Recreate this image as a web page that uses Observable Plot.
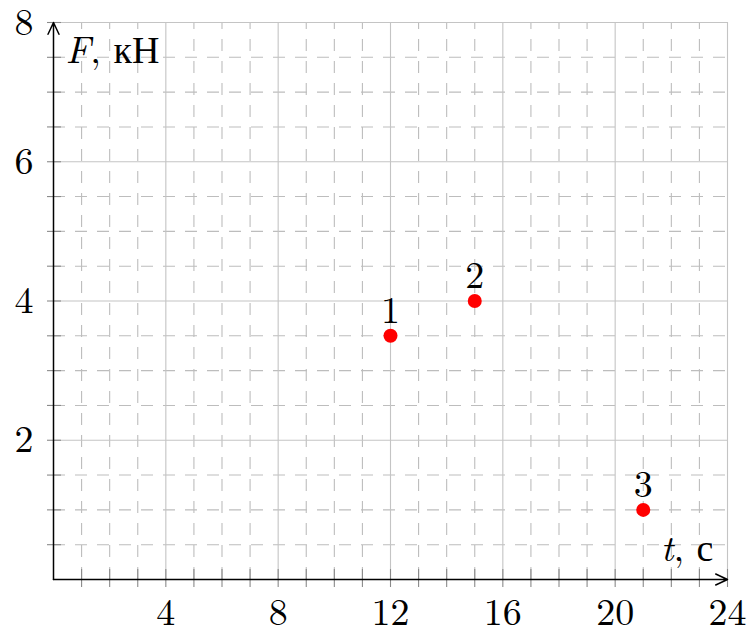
<!DOCTYPE html>
<html>
<head>
<meta charset="utf-8">
<script src="https://cdn.jsdelivr.net/npm/d3@7"></script>
<script src="https://cdn.jsdelivr.net/npm/@observablehq/plot@0.6"></script>
<style>
  html, body { margin: 0; padding: 0; background: #fff; }
  #chart svg { display: block; }
  #chart svg text, #chart svg tspan { font-family: "Latin Modern Roman", "Liberation Serif", serif !important; }
</style>
</head>
<body>
<div id="chart"></div>
<script>
// Data
const pointLabels = ["1", "2", "3"];
const tValues = [12, 15, 21];   // t, с
const fValues = [3.5, 4, 1];    // F, кН
const xTickLabels = [4, 8, 12, 16, 20, 24];
const yTickLabels = [2, 4, 6, 8];
const xLabel = "t, с";
const yLabel = "F, кН";

const points = pointLabels.map((label, i) => ({label, t: tValues[i], f: fValues[i]}));

const xMinor = d3.range(1, 24).filter(v => v % 4 !== 0);
const yMinor = d3.range(0.5, 8, 0.5).filter(v => v % 2 !== 0);
const xMajor = [4, 8, 12, 16, 20, 24];
const yMajor = [2, 4, 6, 8];
const xTicks = d3.range(1, 25);
const yTicks = d3.range(0.5, 8.01, 0.5);

const font = "Latin Modern Roman, Liberation Serif, serif";
const fs = 38;

const chart = Plot.plot({
  width: 749,
  height: 632,
  marginLeft: 53,
  marginRight: 22,
  marginTop: 22,
  marginBottom: 53,
  style: {background: "#fff", overflow: "visible", fontFamily: font},
  x: {domain: [0, 24], axis: null},
  y: {domain: [0, 8], axis: null},
  marks: [
    // minor dashed grid
    Plot.ruleX(xMinor, {y1: 0, y2: 8, stroke: "#bdbdbd", strokeWidth: 1.1, strokeDasharray: "12,10"}),
    Plot.ruleY(yMinor, {x1: 0, x2: 24, stroke: "#bdbdbd", strokeWidth: 1.1, strokeDasharray: "12,10"}),
    // major solid grid
    Plot.ruleX(xMajor, {y1: 0, y2: 8, stroke: "#c4c4c4", strokeWidth: 1.1}),
    Plot.ruleY(yMajor, {x1: 0, x2: 24, stroke: "#c4c4c4", strokeWidth: 1.1}),
    // ticks
    Plot.ruleX(xTicks, {y1: 0, y2: 0, insetTop: -10, insetBottom: -8, stroke: "#8a8a8a", strokeWidth: 1.1}),
    Plot.ruleY(yTicks, {x1: 0, x2: 0, insetLeft: -6, insetRight: -8, stroke: "#8a8a8a", strokeWidth: 1.1}),
    // axes with arrows
    Plot.arrow([0], {x1: 0, y1: 0, x2: 24, y2: 0, stroke: "#000", strokeWidth: 1.5, headLength: 13, headAngle: 50}),
    Plot.arrow([0], {x1: 0, y1: 0, x2: 0, y2: 8, stroke: "#000", strokeWidth: 1.5, headLength: 13, headAngle: 50}),
    // tick labels
    Plot.text(xTickLabels, {x: d => d, y: 0, text: d => String(d), dy: 45, lineAnchor: "bottom", textAnchor: "middle", fontSize: fs, fill: "#000"}),
    Plot.text(yTickLabels, {x: 0, y: d => d, text: d => String(d), dx: -20, lineAnchor: "middle", textAnchor: "end", fontSize: fs, fill: "#000"}),
    // axis labels
    Plot.text([yLabel], {frameAnchor: "top-left", text: d => d, dx: 12, dy: 40, lineAnchor: "bottom", textAnchor: "start", fontSize: fs, fill: "#000", className: "ylab"}),
    Plot.text([xLabel], {frameAnchor: "bottom-right", text: d => d, dx: -14, dy: -19, lineAnchor: "bottom", textAnchor: "end", fontSize: fs, fill: "#000", className: "xlab"}),
    // points
    Plot.dot(points, {x: "t", y: "f", r: 7, fill: "#ff0000", stroke: "none"}),
    Plot.text(points, {x: "t", y: "f", text: "label", dy: -13, lineAnchor: "bottom", textAnchor: "middle", fontSize: fs, fill: "#000"})
  ]
});

// italic variable names in axis labels
function italicFirst(sel) {
  d3.select(chart).selectAll(sel + " text").each(function() {
    const t = d3.select(this);
    const s = t.text();
    const first = s.slice(0, 1), rest = s.slice(1);
    t.text(null);
    t.append("tspan").attr("font-style", "italic").text(first);
    t.append("tspan").text(rest);
  });
}
italicFirst(".ylab");
italicFirst(".xlab");

// force the font family on every text element
d3.select(chart).attr("font-family", font);
d3.select(chart).selectAll("g").attr("font-family", font);
d3.select(chart).selectAll("text").attr("font-family", font).style("font-family", font);

document.getElementById("chart").appendChild(chart);
</script>
</body>
</html>
